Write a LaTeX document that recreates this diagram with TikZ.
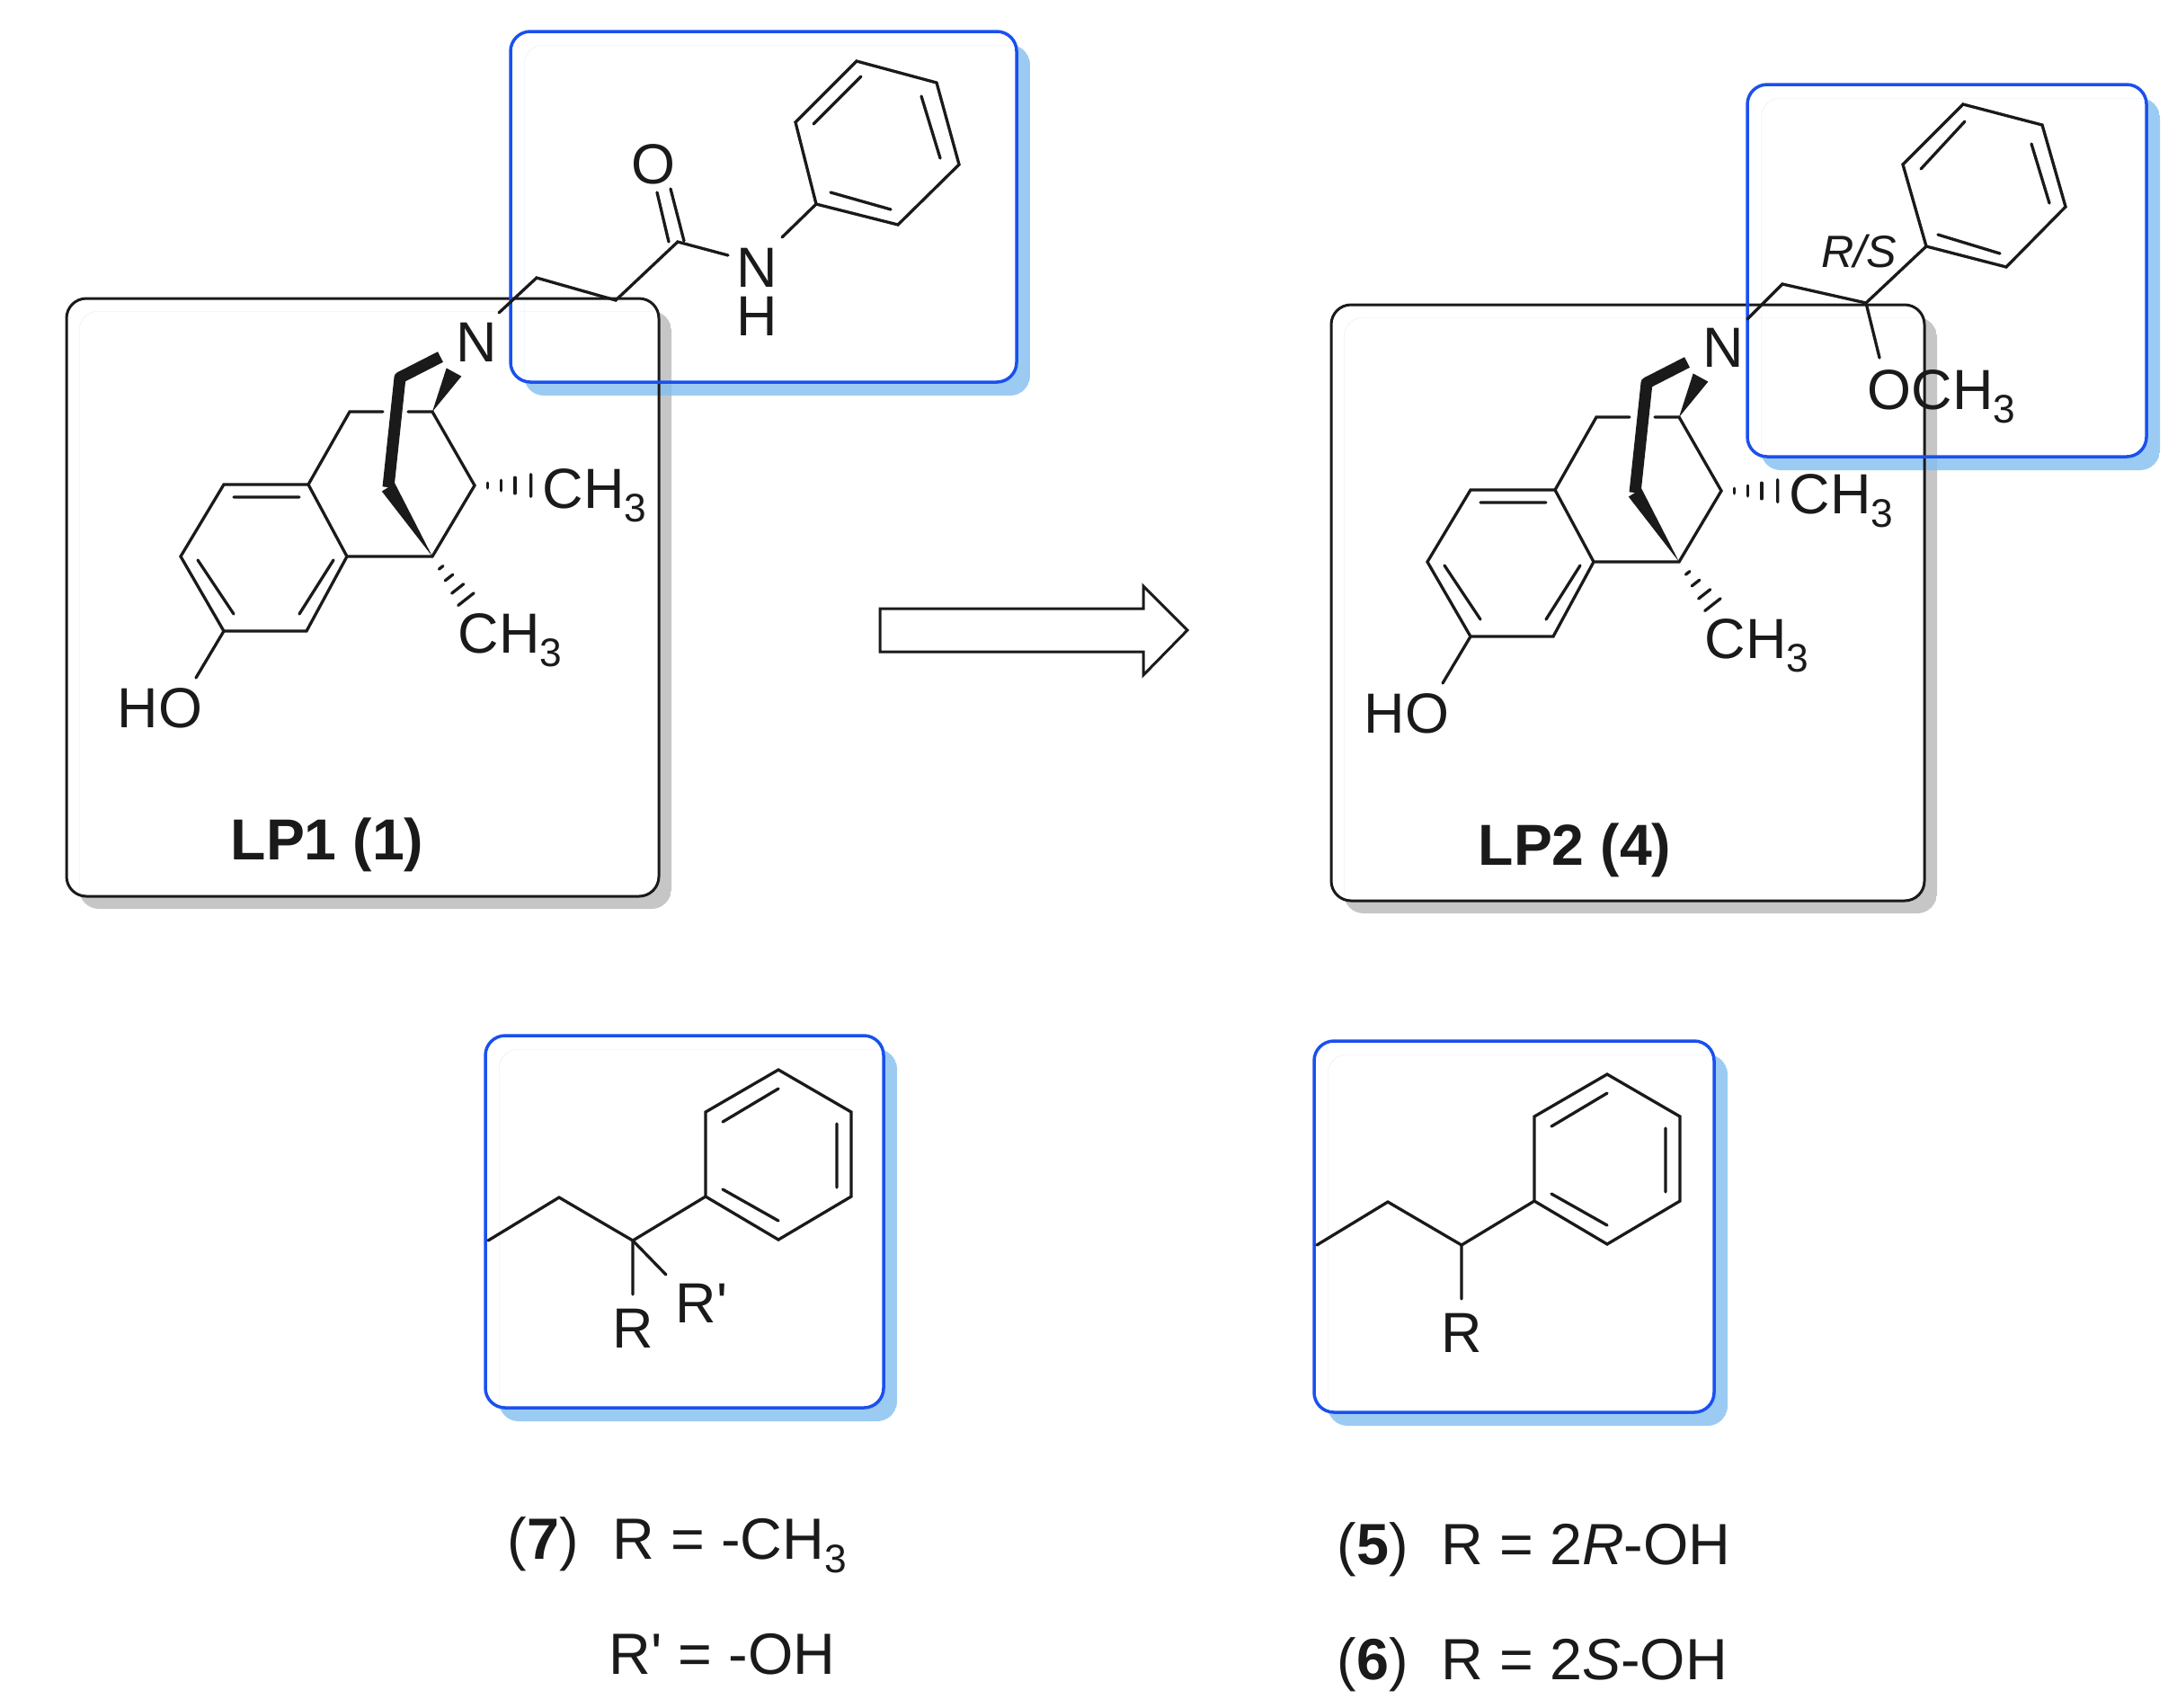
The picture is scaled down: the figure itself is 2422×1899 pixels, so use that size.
\documentclass[tikz,border=0pt]{standalone}
\usepackage{fontspec}
\setmainfont{Liberation Sans}
\newfontfamily\plainf{Liberation Sans}
\usetikzlibrary{calc}
\definecolor{bluebox}{HTML}{1A50EE}
\definecolor{blueshade}{HTML}{82BEF0}
\definecolor{greyshade}{HTML}{C6C6C6}
\definecolor{inkc}{HTML}{1A1A1A}
\newcommand{\subthree}{\raisebox{-0.24em}{\fontsize{12.6pt}{14pt}\selectfont 3}}
\newcommand{\prm}{{\plainf\char39}}
\newcommand{\shadowring}[6]{%
  \begin{scope}
  \clip[rounded corners=0.22cm] (#1+#5,#2+#5) rectangle (#3+#5,#4+#5);
  \fill[#6,even odd rule,rounded corners=0.22cm] (#1+#5,#2+#5) rectangle (#3+#5,#4+#5) (#1,#2) rectangle (#3,#4);
  \end{scope}}
\newcommand{\wedgebond}[3]{% narrow at #1, wide at #2
  \fill[inkc] (#1) -- ($(#2)!#3!90:(#1)$) -- ($(#2)!#3!-90:(#1)$) -- cycle;}
\newcommand{\hashbond}[3]{%
  \foreach \t in {#3} {
    \draw[bond] ($(#1)!\t!(#2)!{\t*0.13cm}!90:(#2)$) -- ($(#1)!\t!(#2)!{\t*0.13cm}!-90:(#2)$);
  }}
% benzomorphan core shared by both molecules
\newcommand{\morphancore}[2]{%
\begin{scope}[shift={#1},name prefix=#2-]
  \coordinate (nb) at (490,397);
  \coordinate (br) at (445,420);
  \coordinate (bb) at (432,542);
  \coordinate (q) at (481,619);
  \coordinate (t) at (481,458);
  \coordinate (tn) at (505,414);
  \coordinate (ch) at (389,458);
  \coordinate (g1) at (426,458);
  \coordinate (g2) at (454,458);
  \coordinate (a1) at (343,539);
  \coordinate (a2) at (249,539);
  \coordinate (a3) at (201,619);
  \coordinate (a4) at (249,702);
  \coordinate (a5) at (341,702);
  \coordinate (a6) at (386,619);
  \coordinate (m) at (528,540);
  \coordinate (i1a) at (260,553);
  \coordinate (i1b) at (333,553);
  \coordinate (i2a) at (220,623);
  \coordinate (i2b) at (260,683);
  \coordinate (i3a) at (333,683);
  \coordinate (i3b) at (371,623);
  \coordinate (oh) at (218,754);
  \coordinate (mh) at (594,540);
  \coordinate (qh) at (525,675);
  \draw[bond] (g2) -- (t) -- (m) -- (q) -- (a6) -- (a1) -- (a2) -- (a3) -- (a4) -- (a5) -- (a6);
  \draw[bond] (a1) -- (ch) -- (g1);
  \draw[bond] (i1a) -- (i1b) (i2a) -- (i2b) (i3a) -- (i3b) (a4) -- (oh);
  \draw[boldbond] (nb) -- (br) -- (bb);
  \wedgebond{q}{bb}{0.085cm}
  \wedgebond{t}{tn}{0.095cm}
  \hashbond{m}{mh}{.22,.45,.68,.95}
  \hashbond{q}{qh}{.22,.42,.64,.85}
  \node[atom] (n) at (530,402) {N};
  \node[atom] (ho) at (178,809) {HO};
  \node[atomw] (me1) at (603,565) {CH\subthree};
  \node[atomw] (me2) at (509,726) {CH\subthree};
\end{scope}}
% side chain with phenyl ring in the lower boxes
\newcommand{\phenylchain}[2]{%
\begin{scope}[shift={#1},name prefix=#2-]
  \coordinate (c0) at (543,1380);
  \coordinate (c1) at (622,1332);
  \coordinate (c2) at (704,1380);
  \coordinate (p1) at (785,1331);
  \coordinate (p2) at (785,1237);
  \coordinate (p3) at (866,1190);
  \coordinate (p4) at (947,1237);
  \coordinate (p5) at (947,1331);
  \coordinate (p6) at (866,1379);
  \coordinate (d1a) at (804,1248);
  \coordinate (d1b) at (866,1211);
  \coordinate (d2a) at (931,1250);
  \coordinate (d2b) at (931,1321);
  \coordinate (d3a) at (866,1358);
  \coordinate (d3b) at (804,1323);
  \coordinate (rb) at (704,1440);
  \draw[bond] (c0) -- (c1) -- (c2) -- (p1) -- (p2) -- (p3) -- (p4) -- (p5) -- (p6) -- (p1);
  \draw[bond] (d1a) -- (d1b) (d2a) -- (d2b) (d3a) -- (d3b) (c2) -- (rb);
  \node[atom] (r) at (704,1499) {R};
\end{scope}}
\tikzset{
  bond/.style={draw=inkc,line width=0.033cm,line join=miter,line cap=round},
  boldbond/.style={draw=inkc,line width=0.13cm,line join=round},
  atom/.style={anchor=base,inner sep=0pt,text=inkc,font=\fontsize{17.9pt}{20pt}\selectfont},
  atomw/.style={atom,anchor=base west},
  tag/.style={anchor=base,inner sep=0pt,text=inkc,font=\fontsize{18.3pt}{20pt}\selectfont\bfseries},
  caption/.style={anchor=base west,inner sep=0pt,text=inkc,font=\fontsize{18.4pt}{21pt}\selectfont},
  stereo/.style={anchor=base,inner sep=0pt,text=inkc,font=\fontsize{14.3pt}{16pt}\selectfont\itshape},
  blackframe/.style={draw=inkc,line width=0.03cm,rounded corners=0.22cm},
  blueframe/.style={draw=bluebox,line width=0.035cm,rounded corners=0.22cm},
}
\begin{document}
\begin{tikzpicture}[x=0.01cm,y=-0.01cm]
\useasboundingbox (0,0) rectangle (2422,1899);
\fill[white] (0,0) rectangle (2422,1899);
% shadows
\shadowring{74}{332}{733}{997}{14}{greyshade}
\shadowring{1481}{339}{2141}{1002}{14}{greyshade}
\begin{scope}[fill opacity=.8]
\shadowring{568}{35}{1131}{425}{15}{blueshade}
\shadowring{1944}{94}{2388}{508}{15}{blueshade}
\shadowring{540}{1152}{983}{1566}{15}{blueshade}
\shadowring{1462}{1158}{1907}{1571}{15}{blueshade}
\end{scope}
% frames
\draw[blackframe] (74,332) rectangle (733,997);
\draw[blackframe] (1481,339) rectangle (2141,1002);
\draw[blueframe] (568,35) rectangle (1131,425);
\draw[blueframe] (1944,94) rectangle (2388,508);
\draw[blueframe] (540,1152) rectangle (983,1566);
\draw[blueframe] (1462,1158) rectangle (1907,1571);
% molecule cores
\morphancore{(0,0)}{lpa}
\morphancore{(1387,6)}{lpb}
% LP1 side chain
\coordinate (a0) at (555,348);
\coordinate (a1) at (597,309);
\coordinate (a2) at (685,334);
\coordinate (a3) at (754,269);
\coordinate (a4) at (810,284);
\coordinate (o1) at (731,214);
\coordinate (o2) at (744,269);
\coordinate (o3) at (746,210);
\coordinate (o4) at (761,268);
\coordinate (a5) at (870,264);
\coordinate (b1) at (908,227);
\coordinate (b2) at (885,136);
\coordinate (b3) at (953,68);
\coordinate (b4) at (1042,92);
\coordinate (b5) at (1067,183);
\coordinate (b6) at (999,250);
\coordinate (e1) at (905,138);
\coordinate (e2) at (958,85);
\coordinate (e3) at (1025,107);
\coordinate (e4) at (1046,176);
\coordinate (e5) at (991,233);
\coordinate (e6) at (924,214);
\draw[bond] (a0) -- (a1) -- (a2) -- (a3) -- (a4);
\draw[bond] (o1) -- (o2) (o3) -- (o4);
\draw[bond] (a5) -- (b1) -- (b2) -- (b3) -- (b4) -- (b5) -- (b6) -- (b1);
\draw[bond] (e1) -- (e2) (e3) -- (e4) (e5) -- (e6);
\node[atom] (oxy) at (727,204) {O};
\node[atom] (amn) at (842,319) {N};
\node[atom] (amh) at (842,373) {H};
\node[tag] (lp1) at (364,956) {LP1 (1)};
% LP2 side chain
\coordinate (f0) at (1944,355);
\coordinate (f1) at (1983,316);
\coordinate (f2) at (2076,337);
\coordinate (f3) at (2091,398);
\coordinate (h1) at (2143,274);
\coordinate (h2) at (2117,183);
\coordinate (h3) at (2184,116);
\coordinate (h4) at (2272,139);
\coordinate (h5) at (2298,230);
\coordinate (h6) at (2232,297);
\coordinate (k1) at (2137,188);
\coordinate (k2) at (2186,135);
\coordinate (k3) at (2260,160);
\coordinate (k4) at (2280,226);
\coordinate (k5) at (2225,282);
\coordinate (k6) at (2156,261);
\draw[bond] (f0) -- (f1) -- (f2) -- (h1) -- (h2) -- (h3) -- (h4) -- (h5) -- (h6) -- (h1);
\draw[bond] (f2) -- (f3) (k1) -- (k2) (k3) -- (k4) (k5) -- (k6);
\node[stereo] (rs) at (2068,297) {R/S};
\node[atomw] (ome) at (2077,455) {OCH\subthree};
\node[tag] (lp2) at (1752,962) {LP2 (4)};
% arrow
\draw[draw=inkc,fill=white,line width=0.03cm,line join=miter]
  (979,677) -- (1272,677) -- (1272,652) -- (1321,701) -- (1272,751) -- (1272,725) -- (979,725) -- cycle;
% lower fragments
\phenylchain{(0,0)}{fa}
\phenylchain{(922,5)}{fb}
\coordinate (rpb) at (741,1418);
\draw[bond] (fa-c2) -- (rpb);
\node[atomw] (rp) at (751,1471) {R\prm};
% captions
\node[caption] (c7) at (564,1734) {(\textbf{7})};
\node[caption] (c7a) at (681,1734) {R = -CH\subthree};
\node[caption] (c7b) at (677,1862) {R\prm{} = -OH};
\node[caption] (c5) at (1487,1740) {(\textbf{5})};
\node[caption] (c5a) at (1603,1740) {R = 2\textit{R}-OH};
\node[caption] (c6) at (1487,1868) {(\textbf{6})};
\node[caption] (c6a) at (1603,1868) {R = 2\textit{S}-OH};
\end{tikzpicture}
\end{document}
